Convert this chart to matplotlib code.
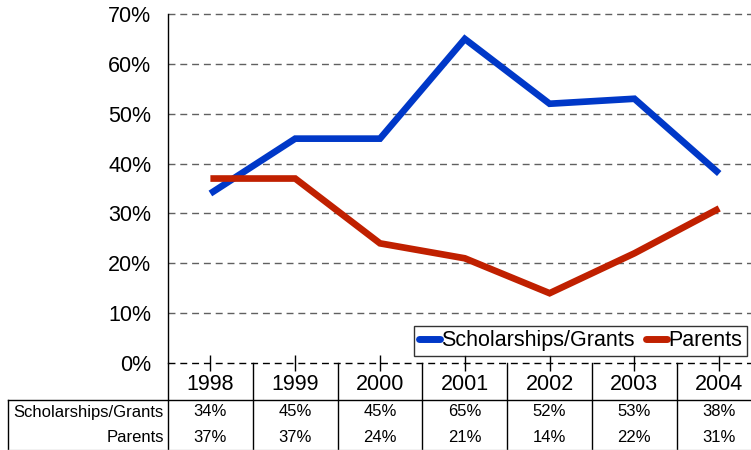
import matplotlib.pyplot as plt
import matplotlib.transforms as mtransforms
import numpy as np

plt.rcParams['font.family'] = ['Liberation Sans', 'DejaVu Sans']

years = ['1998', '1999', '2000', '2001', '2002', '2003', '2004']
scholarships = [34, 45, 45, 65, 52, 53, 38]
parents = [37, 37, 24, 21, 14, 22, 31]
series_names = ['Scholarships/Grants', 'Parents']
yticks = [0, 10, 20, 30, 40, 50, 60, 70]

blue = '#0038C8'
red = '#C02000'

W, H = 751, 450
fig = plt.figure(figsize=(W / 100, H / 100), dpi=100)

# axes run past the right edge like the original export
left, right, top, bottom = 168, 168 + 7 * 84.8, 14, 363
ax = fig.add_axes([left / W, 1 - bottom / H, (right - left) / W, (bottom - top) / H])

x = np.arange(len(years))
ax.plot(x, np.array(scholarships) / 100, color=blue, lw=4.8, solid_joinstyle='miter',
        solid_capstyle='butt', label=series_names[0], zorder=3)
ax.plot(x, np.array(parents) / 100, color=red, lw=4.8, solid_joinstyle='miter',
        solid_capstyle='butt', label=series_names[1], zorder=3)

ax.set_xlim(-0.5, len(years) - 0.5)
ax.set_ylim(0, 0.7)

# dashed grid lines, including 0% and 70%
for v in yticks:
    ax.axhline(v / 100, color='#000000' if v == 0 else '#606060', lw=1,
               ls=(0, (5, 3.5)), zorder=1, clip_on=False)

ax.set_yticks([v / 100 for v in yticks])
ax.set_yticklabels(['%d%%' % v for v in yticks], fontsize=15.5)
ax.tick_params(axis='y', length=0, pad=12)
ax.set_xticks(x)
ax.set_xticklabels([])
ax.tick_params(axis='x', direction='inout', length=12, width=1, color='black')

for s in ['top', 'right', 'bottom']:
    ax.spines[s].set_visible(False)
ax.spines['left'].set_linewidth(1)

# legend
leg = ax.legend(loc='lower left', bbox_to_anchor=(0.4144, 0.02), ncol=2, fontsize=15.5,
                frameon=True, fancybox=False, edgecolor='black', handlelength=1.0,
                handletextpad=0.05, columnspacing=0.5, borderpad=0.22, borderaxespad=0)
leg.get_frame().set_linewidth(1)
for h in leg.get_lines():
    h.set_solid_capstyle('round')
    h.set_linewidth(5)

# data table beneath the plot
def ay(py):
    return (bottom - py) / (bottom - top)

def ax_x(px):
    return (px - left) / (right - left)

trans = mtransforms.blended_transform_factory(ax.transData, ax.transAxes)

for k in range(len(years) + 1):
    ax.plot([k - 0.5, k - 0.5], [0, ay(451)], color='black', lw=1, transform=trans, clip_on=False)
ax.plot([ax_x(8), ax_x(8)], [ay(400), ay(451)], color='black', lw=1,
        transform=ax.transAxes, clip_on=False)
ax.plot([ax_x(8), 1], [ay(400), ay(400)], color='black', lw=1,
        transform=ax.transAxes, clip_on=False)
ax.plot([ax_x(8), 1], [ay(449.5), ay(449.5)], color='#C0C0C0', lw=1,
        transform=ax.transAxes, clip_on=False)

for i, yr in enumerate(years):
    ax.text(i, ay(385), yr, transform=trans, ha='center', va='center', fontsize=15.5, clip_on=False)
    ax.text(i, ay(412), '%d%%' % scholarships[i], transform=trans, ha='center', va='center',
            fontsize=12, clip_on=False)
    ax.text(i, ay(437), '%d%%' % parents[i], transform=trans, ha='center', va='center',
            fontsize=12, clip_on=False)

ax.text(ax_x(164), ay(412), series_names[0], transform=ax.transAxes, ha='right', va='center',
        fontsize=12, clip_on=False)
ax.text(ax_x(164), ay(437), series_names[1], transform=ax.transAxes, ha='right', va='center',
        fontsize=12, clip_on=False)

fig.savefig('out.png', dpi=100)
